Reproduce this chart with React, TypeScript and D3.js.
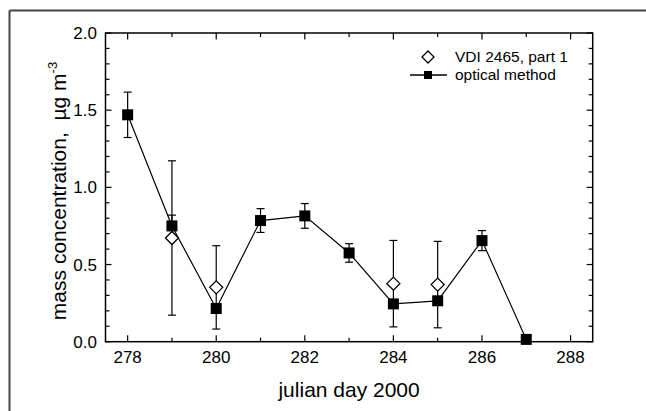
import React from "react";
import * as d3 from "d3";

const days = [278, 279, 280, 281, 282, 283, 284, 285, 286, 287];
const optical = [1.47, 0.75, 0.215, 0.785, 0.815, 0.575, 0.245, 0.265, 0.655, 0.015];
const opticalErr = [0.147, 0.07, 0.0, 0.077, 0.08, 0.06, 0.0, 0.0, 0.065, 0.0];
const vdiDays = [279, 280, 284, 285];
const vdi = [0.672, 0.352, 0.376, 0.37];
const vdiErr = [0.5, 0.27, 0.28, 0.28];
const xMajor = [278, 280, 282, 284, 286, 288];
const yMajor = [0, 0.5, 1.0, 1.5, 2.0];
const legendLabels = ["VDI 2465, part 1", "optical method"];

const W = 646;
const H = 411;
const L = 105.5, R = 592.7, T = 33, B = 341.7;
const font = "'Liberation Sans', Arial, sans-serif";

export default function App() {
  const x = d3.scaleLinear().domain([277.5, 288.5]).range([L, R]);
  const y = d3.scaleLinear().domain([0, 2]).range([B, T]);
  const xAll = d3.range(278, 289, 1);
  const yAll = d3.range(0, 21, 1).map((v) => v / 10);
  const line = d3
    .line<number>()
    .x((_, i) => x(days[i]))
    .y((d) => y(d));
  const cap = 4;
  const sq = 11;
  const dia = 6.5;

  const errBar = (cx: number, v: number, e: number, k: string) => {
    if (!e) return null;
    const y1 = y(v + e), y2 = y(v - e);
    return (
      <g key={k} stroke="#000" strokeWidth={1.2}>
        <line x1={cx} x2={cx} y1={y1} y2={y2} />
        <line x1={cx - cap} x2={cx + cap} y1={y1} y2={y1} />
        <line x1={cx - cap} x2={cx + cap} y1={y2} y2={y2} />
      </g>
    );
  };

  return (
    <svg width={W} height={H} style={{ position: "absolute", left: 0, top: 0, background: "#fff" }} fontFamily={font}>
      <rect x={0} y={0} width={W} height={H} fill="#fff" />
      {/* outer frame (top and left only) */}
      <line x1={9.5} x2={W} y1={10.5} y2={10.5} stroke="#444" strokeWidth={2} />
      <line x1={9.5} x2={9.5} y1={10.5} y2={H} stroke="#444" strokeWidth={2} />

      {/* plot box */}
      <rect x={L} y={T} width={R - L} height={B - T} fill="none" stroke="#000" strokeWidth={1.5} />

      {/* x ticks bottom & top */}
      {xAll.map((v) => {
        const major = v % 2 === 0;
        const len = major ? 6.5 : 4;
        return (
          <g key={"xt" + v} stroke="#000" strokeWidth={1.2}>
            <line x1={x(v)} x2={x(v)} y1={B} y2={B - len} />
            <line x1={x(v)} x2={x(v)} y1={T} y2={T + len} />
          </g>
        );
      })}
      {/* y ticks left & right */}
      {yAll.map((v, i) => {
        const major = i % 5 === 0;
        const len = major ? 6 : 4;
        return (
          <g key={"yt" + i} stroke="#000" strokeWidth={1.2}>
            <line x1={L} x2={L + len} y1={y(v)} y2={y(v)} />
            <line x1={R} x2={R - len} y1={y(v)} y2={y(v)} />
          </g>
        );
      })}

      {/* tick labels */}
      {xMajor.map((v) => (
        <text key={"xl" + v} x={x(v)} y={363} textAnchor="middle" fontSize={17} fill="#000">
          {v}
        </text>
      ))}
      {yMajor.map((v) => (
        <text key={"yl" + v} x={97} y={y(v) + 6} textAnchor="end" fontSize={17} fill="#000">
          {v.toFixed(1)}
        </text>
      ))}

      {/* axis titles */}
      <text x={(L + R) / 2} y={397} textAnchor="middle" fontSize={21} fill="#000">
        julian day 2000
      </text>
      <text
        transform={`translate(66,${191}) rotate(-90)`}
        textAnchor="middle"
        fontSize={21}
        fill="#000"
        xmlSpace="preserve"
      >
        {"mass concentration,\u00a0 µg m"}
        <tspan fontSize={13} dy={-9}>-3</tspan>
      </text>

      {/* error bars */}
      {vdiDays.map((d, i) => errBar(x(d), vdi[i], vdiErr[i], "ve" + i))}
      {days.map((d, i) => errBar(x(d), optical[i], opticalErr[i], "oe" + i))}

      {/* line */}
      <path d={line(optical) || ""} fill="none" stroke="#000" strokeWidth={1.2} />

      {/* VDI diamonds */}
      {vdiDays.map((d, i) => {
        const cx = x(d), cy = y(vdi[i]);
        return (
          <path
            key={"vd" + i}
            d={`M${cx},${cy - dia}L${cx + dia},${cy}L${cx},${cy + dia}L${cx - dia},${cy}Z`}
            fill="#fff"
            stroke="#000"
            strokeWidth={1.3}
          />
        );
      })}
      {/* optical squares */}
      {days.map((d, i) => (
        <rect key={"os" + i} x={x(d) - sq / 2} y={y(optical[i]) - sq / 2} width={sq} height={sq} fill="#000" />
      ))}

      {/* legend */}
      <path d={`M428,51L434,57L428,63L422,57Z`} fill="#fff" stroke="#000" strokeWidth={1.3} />
      <text x={455} y={62} fontSize={15.5} fill="#000">{legendLabels[0]}</text>
      <line x1={410} x2={447} y1={75} y2={75} stroke="#000" strokeWidth={1.3} />
      <rect x={424} y={71} width={8} height={8} fill="#000" />
      <text x={455} y={80} fontSize={15.5} fill="#000">{legendLabels[1]}</text>
    </svg>
  );
}
